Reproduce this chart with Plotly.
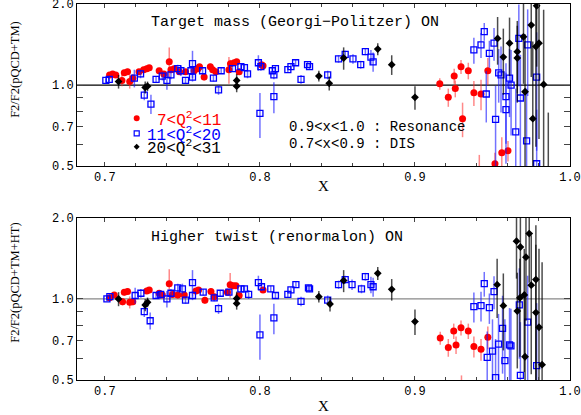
import math
import plotly.graph_objects as go

# ---- top panel: target mass (Georgi-Politzer) ----
tm_red_x = [0.703, 0.705, 0.707, 0.711, 0.7125, 0.7146, 0.716, 0.718, 0.722, 0.725, 0.727, 0.7286,
            0.735, 0.738, 0.7415, 0.7426, 0.7447, 0.748, 0.752, 0.7576, 0.760, 0.761, 0.764, 0.768,
            0.7695, 0.7716, 0.780, 0.781, 0.7834, 0.785, 0.7866, 0.801, 0.802,
            0.916, 0.9215, 0.9253, 0.926, 0.9297, 0.9307, 0.9344, 0.938, 0.9415, 0.9426, 0.947,
            0.9516, 0.956, 0.960]
tm_red_y = [1.09, 1.10, 1.09, 1.04, 1.11, 1.12, 1.03, 1.06, 1.12, 1.14, 1.15, 1.16,
            1.13, 1.10, 1.22, 1.14, 1.15, 1.12, 1.12, 1.13, 1.15, 1.17, 1.07, 1.17,
            1.14, 1.12, 1.14, 1.20, 1.21, 1.22, 1.12, 1.19, 1.18,
            1.01, 0.90, 1.08, 0.97, 1.17, 0.75, 1.13, 0.936, 0.44, 0.926, 1.13,
            0.51, 0.56, 0.57]
tm_red_err = [0.02, 0.02, 0.02, 0.05, 0.03, 0.03, 0.06, 0.04, 0.02, 0.02, 0.02, 0.02,
              0.02, 0.02, 0.16, 0.03, 0.03, 0.03, 0.02, 0.02, 0.02, 0.02, 0.03, 0.03,
              0.03, 0.03, 0.13, 0.04, 0.03, 0.03, 0.03, 0.02, 0.02,
              0.05, 0.07, 0.07, 0.07, 0.07, 0.11, 0.08, 0.10, 0.11, 0.12, 0.13,
              0.05, 0.08, 0.05]

tm_blue_x = [0.7006, 0.7028, 0.719, 0.723, 0.7254, 0.7297, 0.733, 0.737, 0.740, 0.7426, 0.747, 0.749,
             0.752, 0.7555, 0.7565, 0.7565, 0.763, 0.770, 0.7733, 0.775, 0.7823, 0.7877, 0.790, 0.792,
             0.799, 0.800, 0.8006, 0.808, 0.809, 0.809, 0.810, 0.818, 0.820, 0.823, 0.8265, 0.8307,
             0.832, 0.8437, 0.8507, 0.855, 0.860, 0.865, 0.868, 0.8716, 0.873,
             0.938, 0.9426, 0.9447, 0.946, 0.948, 0.951, 0.952, 0.954, 0.9555, 0.9587, 0.9587,
             0.961, 0.962, 0.965, 0.967, 0.968, 0.972, 0.9727, 0.9785, 0.9785]
tm_blue_y = [1.04, 1.05, 1.06, 1.10, 0.918, 0.85, 1.05, 1.08, 1.04, 1.09, 1.15, 1.13,
             1.04, 1.13, 1.20, 1.07, 1.13, 1.06, 0.96, 1.13, 1.15, 1.17, 1.16, 1.10,
             1.21, 0.785, 1.17, 1.13, 1.09, 0.905, 1.15, 1.14, 1.17, 1.21, 1.05, 1.19,
             1.17, 1.09, 1.25, 1.30, 1.25, 1.19, 1.33, 1.27, 1.22,
             1.35, 1.41, 1.58, 0.926, 1.31, 1.43, 0.745, 1.11, 1.09, 0.905, 0.81,
             1.06, 1.00, 0.67, 1.49, 0.895, 0.62, 1.41, 1.07, 0.51]
tm_blue_err = [0.02, 0.02, 0.08, 0.04, 0.04, 0.07, 0.03, 0.04, 0.08, 0.04, 0.04, 0.05,
               0.03, 0.04, 0.14, 0.04, 0.03, 0.03, 0.04, 0.03, 0.03, 0.03, 0.03, 0.04,
               0.08, 0.15, 0.04, 0.03, 0.04, 0.12, 0.03, 0.03, 0.03, 0.03, 0.04, 0.03,
               0.03, 0.04, 0.04, 0.04, 0.05, 0.04, 0.04, 0.08, 0.10,
               0.15, 0.15, 0.12, 0.20, 0.15, 0.20, 0.25, 0.25, 0.30, 0.30, 0.30,
               0.30, 0.35, 0.30, 0.50, 0.40, 0.35, 0.50, 0.50, 0.30]

tm_black_x = [0.7088, 0.726, 0.7275, 0.785, 0.785, 0.838, 0.8447, 0.854, 0.876, 0.885, 0.900,
              0.9533, 0.957, 0.961, 0.966, 0.966, 0.970, 0.971, 0.975, 0.976, 0.978, 0.9785,
              0.980, 0.983, 0.986]
tm_black_y = [1.03, 0.98, 0.99, 1.04, 0.99, 1.08, 1.015, 1.26, 1.36, 1.19, 0.90,
              1.49, 1.27, 1.43, 1.33, 1.26, 1.51, 0.944, 1.67, 0.75, 1.39, 1.97,
              1.43, 1.005, 0.45]
tm_black_err = [0.06, 0.05, 0.04, 0.06, 0.05, 0.05, 0.06, 0.12, 0.07, 0.10, 0.09,
                0.30, 0.35, 0.35, 0.40, 0.40, 0.50, 0.60, 0.60, 0.70, 0.80, 0.80,
                0.80, 0.90, 0.34]

# ---- bottom panel: higher twist (renormalon) ----
ht_red_x = [0.703, 0.706, 0.7114, 0.7125, 0.7146, 0.716, 0.718, 0.727, 0.7286, 0.735, 0.737, 0.7415,
            0.7436, 0.747, 0.7512, 0.7587, 0.7604, 0.7645, 0.7684, 0.7705, 0.779, 0.7808, 0.7828,
            0.7845, 0.7866, 0.802,
            0.9163, 0.9215, 0.925, 0.9265, 0.9297, 0.930, 0.9344, 0.938, 0.9426, 0.947]
ht_red_y = [1.01, 1.035, 0.977, 1.059, 1.065, 0.972, 0.977, 1.07, 1.08, 1.05, 1.035, 1.14,
            1.04, 1.035, 1.035, 1.07, 1.08, 0.99, 1.065, 1.02, 1.06, 1.13, 1.12,
            1.12, 1.03, 1.08,
            0.716, 0.66, 0.76, 0.675, 0.782, 0.42, 0.76, 0.666, 0.65, 0.72]
ht_red_err = [0.02, 0.02, 0.03, 0.03, 0.03, 0.05, 0.03, 0.02, 0.02, 0.02, 0.02, 0.15,
              0.03, 0.03, 0.02, 0.02, 0.02, 0.03, 0.03, 0.03, 0.03, 0.12, 0.03,
              0.03, 0.03, 0.02,
              0.04, 0.05, 0.05, 0.05, 0.05, 0.10, 0.05, 0.06, 0.06, 0.07]

ht_blue_x = [0.7013, 0.7032, 0.7195, 0.7232, 0.7254, 0.7292, 0.733, 0.736, 0.740, 0.7426, 0.747, 0.750,
             0.752, 0.7565, 0.7565, 0.7634, 0.7705, 0.7733, 0.7744, 0.780, 0.7877, 0.790, 0.7927,
             0.799, 0.800, 0.801, 0.807, 0.809, 0.810, 0.818, 0.820, 0.8232, 0.8265, 0.8313,
             0.832, 0.8437, 0.8507, 0.855, 0.8594, 0.8655, 0.868, 0.8716, 0.873,
             0.938, 0.9426, 0.9447, 0.9466, 0.948, 0.950, 0.951, 0.952, 0.9539, 0.9565, 0.958,
             0.961, 0.9619, 0.9673, 0.968, 0.9727, 0.9785]
ht_blue_y = [1.00, 1.02, 1.03, 1.05, 0.897, 0.83, 1.03, 1.04, 1.00, 1.05, 1.10, 1.09,
             0.99, 1.15, 1.03, 1.06, 1.01, 0.92, 1.05, 1.06, 1.09, 1.09, 1.04,
             1.15, 0.735, 1.11, 1.09, 0.85, 1.03, 1.04, 1.08, 1.13, 0.98, 1.10,
             1.09, 0.99, 1.13, 1.18, 1.13, 1.09, 1.21, 1.13, 1.11,
             0.937, 0.944, 1.14, 0.607, 0.928, 0.64, 1.065, 0.51, 0.68, 0.778, 0.59,
             0.675, 0.67, 0.95, 0.52, 0.82, 0.565]
ht_blue_err = [0.02, 0.02, 0.07, 0.04, 0.04, 0.06, 0.03, 0.04, 0.07, 0.04, 0.04, 0.05,
               0.03, 0.13, 0.04, 0.03, 0.03, 0.04, 0.03, 0.03, 0.03, 0.03, 0.04,
               0.07, 0.14, 0.04, 0.03, 0.11, 0.03, 0.03, 0.03, 0.03, 0.04, 0.03,
               0.03, 0.04, 0.04, 0.04, 0.05, 0.04, 0.04, 0.08, 0.09,
               0.12, 0.12, 0.12, 0.15, 0.12, 0.20, 0.15, 0.20, 0.20, 0.25, 0.25,
               0.25, 0.25, 0.35, 0.30, 0.40, 0.40]

ht_black_x = [0.7088, 0.726, 0.7275, 0.785, 0.785, 0.838, 0.8452, 0.854, 0.876, 0.885, 0.900,
              0.953, 0.957, 0.9655, 0.966, 0.9677, 0.968, 0.9705, 0.971, 0.9716, 0.9737, 0.975,
              0.978, 0.978, 0.980, 0.982]
ht_black_y = [1.00, 0.95, 0.972, 1.005, 0.963, 1.02, 0.958, 1.17, 1.245, 1.086, 0.824,
              1.13, 0.944, 1.64, 0.902, 1.01, 1.56, 1.035, 0.61, 1.43, 1.75, 1.125,
              1.18, 0.89, 0.785, 0.57]
ht_black_err = [0.06, 0.05, 0.04, 0.06, 0.05, 0.05, 0.06, 0.11, 0.07, 0.10, 0.09,
                0.28, 0.30, 0.45, 0.35, 0.40, 0.55, 0.50, 0.45, 0.60, 0.60, 0.60,
                0.70, 0.70, 0.75, 0.80]

x_range = [0.682, 1.0]
y_range = [math.log10(0.5), math.log10(2.0)]

series = [
    ("7<Q2<11", dict(symbol="circle", size=7, color="#ff0000", line=dict(width=0)), "rgba(255,40,40,0.55)"),
    ("11<Q2<20", dict(symbol="square-open", size=6, color="#0000ff", line=dict(width=1.3)), "rgba(20,20,255,0.6)"),
    ("20<Q2<31", dict(symbol="diamond", size=6, color="#000000", line=dict(width=0)), "rgba(0,0,0,0.7)"),
]

panels = [
    ("x", "y", [(tm_red_x, tm_red_y, tm_red_err), (tm_blue_x, tm_blue_y, tm_blue_err),
                (tm_black_x, tm_black_y, tm_black_err)], "#000000"),
    ("x2", "y2", [(ht_red_x, ht_red_y, ht_red_err), (ht_blue_x, ht_blue_y, ht_blue_err),
                  (ht_black_x, ht_black_y, ht_black_err)], "#888888"),
]

fig = go.Figure()
for xa, ya, data, line_col in panels:
    # reference line at ratio 1
    fig.add_trace(go.Scatter(x=x_range, y=[1.0, 1.0], mode="lines", xaxis=xa, yaxis=ya,
                             line=dict(color=line_col, width=1.2), showlegend=False, hoverinfo="skip"))
    for (xs, ys, es), (name, mk, ecol) in zip(data, series):
        fig.add_trace(go.Scatter(
            x=xs, y=ys, mode="markers", name=name, xaxis=xa, yaxis=ya,
            marker=mk, showlegend=False,
            error_y=dict(type="data", array=es, visible=True, width=0, thickness=1.5, color=ecol),
        ))

tick_font = dict(family="Liberation Mono", size=12, color="black")


def xaxis_cfg(anchor):
    return dict(anchor=anchor, domain=[0, 1], range=x_range, tick0=0.7, dtick=0.1, tickformat=".1f",
                ticks="inside", ticklen=4, showline=True, linecolor="black", linewidth=1, mirror="ticks",
                showgrid=False, zeroline=False, tickfont=tick_font, automargin=False,
                ticklabeloverflow="allow",
                minor=dict(tick0=0.7, dtick=0.02, ticks="inside", ticklen=3, showgrid=False))


def yaxis_cfg(anchor, domain):
    return dict(anchor=anchor, domain=domain, type="log", range=y_range,
                tickvals=[0.5, 0.7, 1.0, 2.0], ticktext=["0.5", "0.7", "1.0", "2.0"],
                ticks="inside", ticklen=6, showline=True, linecolor="black", linewidth=1, mirror="ticks",
                showgrid=False, zeroline=False, tickfont=tick_font, automargin=False,
                ticklabeloverflow="allow",
                minor=dict(tickvals=[0.6, 0.8, 0.9], ticks="inside", ticklen=6, showgrid=False))


fig.update_layout(
    width=581, height=415,
    margin=dict(l=77, r=11, t=4, b=35),
    paper_bgcolor="white", plot_bgcolor="white",
    xaxis=xaxis_cfg("y"), yaxis=yaxis_cfg("x", [0.569, 1.0]),
    xaxis2=xaxis_cfg("y2"), yaxis2=yaxis_cfg("x2", [0.0, 0.431]),
)

# legend key glyphs (top panel)
cx, hx, hy = 0.1211, 0.0061, 0.0185
fig.add_shape(type="circle", xref="x domain", yref="y domain",
              x0=cx - hx, x1=cx + hx, y0=0.2944 - hy, y1=0.2944 + hy,
              fillcolor="#ff0000", line=dict(width=0))
fig.add_shape(type="rect", xref="x domain", yref="y domain",
              x0=cx - 0.0051, x1=cx + 0.0051, y0=0.2019 - 0.0154, y1=0.2019 + 0.0154,
              fillcolor="white", line=dict(color="#0000ff", width=1.2))
cy = 0.1191
fig.add_shape(type="path", xref="x domain", yref="y domain",
              path=f"M {cx - hx},{cy} L {cx},{cy + hy} L {cx + hx},{cy} L {cx},{cy - hy} Z",
              fillcolor="#000000", line=dict(width=0))

mono = "Liberation Mono"
serif = "Liberation Serif"
annotations = [
    dict(text="Target mass (Georgi\u2212Politzer) ON", xref="x domain", yref="y domain", x=0.443, y=0.883,
         font=dict(family=mono, size=15, color="black")),
    dict(text="Higher twist (renormalon) ON", xref="x2 domain", yref="y2 domain", x=0.406, y=0.877,
         font=dict(family=mono, size=15, color="black")),
    dict(text="0.9&lt;x&lt;1.0 : Resonance", xref="x domain", yref="y domain", x=0.426, y=0.241,
         xanchor="left", font=dict(family=mono, size=14, color="black")),
    dict(text="0.7&lt;x&lt;0.9 : DIS", xref="x domain", yref="y domain", x=0.426, y=0.136,
         xanchor="left", font=dict(family=mono, size=14, color="black")),
    # legend labels
    dict(text="7&lt;Q<sup>2</sup>&lt;11", xref="x domain", yref="y domain", x=0.158, y=0.285,
         xanchor="left", font=dict(family=mono, size=16, color="#ff0000")),
    dict(text="11&lt;Q<sup>2</sup>&lt;20", xref="x domain", yref="y domain", x=0.138, y=0.195,
         xanchor="left", font=dict(family=mono, size=16, color="#0000ff")),
    dict(text="20&lt;Q<sup>2</sup>&lt;31", xref="x domain", yref="y domain", x=0.138, y=0.112,
         xanchor="left", font=dict(family=mono, size=16, color="#000000")),
    # axis titles
    dict(text="F2/F2(pQCD+TM)", xref="paper", yref="y domain", x=-0.126, y=0.599, textangle=-90,
         font=dict(family=serif, size=12.5, color="black")),
    dict(text="F2/F2(pQCD+TM+HT)", xref="paper", yref="y2 domain", x=-0.126, y=0.599, textangle=-90,
         font=dict(family=serif, size=12.5, color="black")),
    dict(text="X", xref="x domain", yref="y domain", x=0.499, y=-0.123,
         font=dict(family=serif, size=15, color="black")),
    dict(text="X", xref="x2 domain", yref="y2 domain", x=0.499, y=-0.16,
         font=dict(family=serif, size=15, color="black")),
]
for a in annotations:
    a.setdefault("showarrow", False)
    a.setdefault("xanchor", "center")
    a.setdefault("yanchor", "middle")
    fig.add_annotation(**a)

fig.write_html("out.html", config={"displayModeBar": False},
               post_script="document.body.style.margin='0px';")
